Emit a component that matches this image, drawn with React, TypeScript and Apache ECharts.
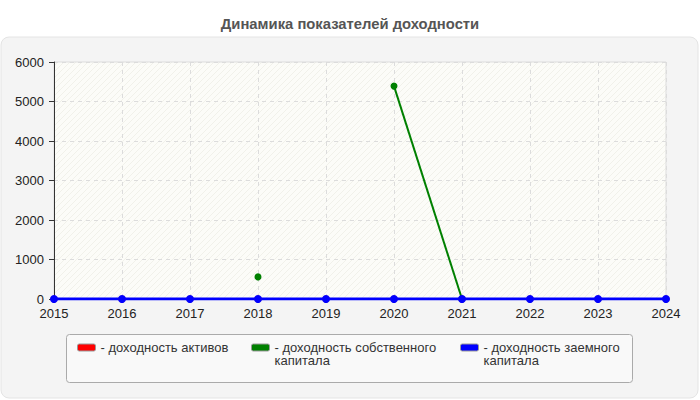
import React, { useEffect, useRef } from 'react';
import * as echarts from 'echarts';

const years = ['2015', '2016', '2017', '2018', '2019', '2020', '2021', '2022', '2023', '2024'];
const assetsReturn = [0, 0, 0, 0, 0, 0, 0, 0, 0, 0];
const equityReturn = [null, null, null, 560, null, 5390, 0, null, null, null];
const debtReturn = [0, 0, 0, 0, 0, 0, 0, 0, 0, 0];
const seriesNames = ['доходность активов', 'доходность собственного капитала', 'доходность заемного капитала'];
const legendLabels = ['- доходность активов', '\n- доходность собственного\nкапитала', '\n- доходность заемного\nкапитала'];

const FONT = '"Liberation Sans", Arial, sans-serif';

const makeHatch = () => {
  const c = document.createElement('canvas');
  c.width = 6;
  c.height = 6;
  const ctx = c.getContext('2d');
  if (!ctx) return '#fbfbf6';
  ctx.fillStyle = '#fcfcf8';
  ctx.fillRect(0, 0, 6, 6);
  ctx.strokeStyle = '#f1f1ea';
  ctx.lineWidth = 1;
  ctx.beginPath();
  ctx.moveTo(0, 6);
  ctx.lineTo(6, 0);
  ctx.stroke();
  return { image: c.toDataURL(), repeat: 'repeat', imageWidth: 6, imageHeight: 6 };
};

const Chart: React.FC = () => {
  const ref = useRef<HTMLDivElement>(null);

  useEffect(() => {
    if (!ref.current) return;
    const chart = echarts.init(ref.current, null, { renderer: 'svg' });

    const legendLefts = [77, 251, 460];
    const legendTops = [341, 328, 328];
    const colors = ['#ff0000', '#008000', '#0000ff'];

    chart.setOption({
      animation: false,
      color: colors,
      title: {
        text: 'Динамика показателей доходности',
        left: 'center',
        top: 11,
        textStyle: { fontFamily: FONT, fontSize: 14.8, fontWeight: 'bold', color: '#555' },
      },
      graphic: [
        {
          type: 'rect',
          z: -10,
          shape: { x: 1, y: 37, width: 697, height: 361, r: 8 },
          style: { fill: '#f4f4f4', stroke: '#e4e4e4', lineWidth: 1 },
        },
        {
          type: 'rect',
          z: -9,
          shape: { x: 66.5, y: 334.5, width: 566, height: 48, r: 3 },
          style: { fill: '#f9f9f9', stroke: '#aaaaaa', lineWidth: 1 },
        },
      ],
      legend: seriesNames.map((name, i) => ({
        data: [name],
        left: legendLefts[i],
        top: legendTops[i],
        padding: 0,
        icon: 'roundRect',
        itemWidth: 18,
        itemHeight: 7,
        itemStyle: { borderColor: '#999', borderWidth: 1 },
        selectedMode: false,
        formatter: () => legendLabels[i],
        textStyle: { fontFamily: FONT, fontSize: 13, color: '#333', lineHeight: 13 },
      })),
      grid: {
        left: 54,
        right: 34,
        top: 62,
        bottom: 101,
        show: true,
        backgroundColor: makeHatch(),
        borderColor: '#dddddd',
        borderWidth: 1,
      },
      xAxis: {
        type: 'category',
        data: years,
        boundaryGap: false,
        axisLine: { show: true, lineStyle: { color: '#333' } },
        axisTick: { show: false },
        axisLabel: { fontFamily: FONT, fontSize: 13, color: '#222', margin: 8 },
        splitLine: { show: true, lineStyle: { color: '#dcdcdc', type: [4, 4] } },
      },
      yAxis: {
        type: 'value',
        min: 0,
        max: 6000,
        interval: 1000,
        axisLine: { show: true, lineStyle: { color: '#333' } },
        axisTick: { show: true, length: 5, lineStyle: { color: '#333' } },
        axisLabel: { fontFamily: FONT, fontSize: 13, color: '#222', margin: 10, formatter: (v: number) => String(v) },
        splitLine: { show: true, lineStyle: { color: '#dcdcdc', type: [4, 4] } },
      },
      series: [
        {
          name: seriesNames[0],
          type: 'line',
          data: assetsReturn,
          symbol: 'circle',
          symbolSize: 7,
          lineStyle: { width: 2 },
        },
        {
          name: seriesNames[1],
          type: 'line',
          data: equityReturn,
          symbol: 'circle',
          symbolSize: 7,
          showAllSymbol: true,
          lineStyle: { width: 2 },
        },
        {
          name: seriesNames[2],
          type: 'line',
          data: debtReturn,
          symbol: 'circle',
          symbolSize: 8,
          showAllSymbol: true,
          lineStyle: { width: 3 },
        },
      ],
    });

    return () => chart.dispose();
  }, []);

  return <div ref={ref} style={{ width: 700, height: 400 }} />;
};

export default function App() {
  return (
    <div style={{ position: 'absolute', left: 0, top: 0, width: 700, height: 400, background: '#fff' }}>
      <Chart />
    </div>
  );
}
